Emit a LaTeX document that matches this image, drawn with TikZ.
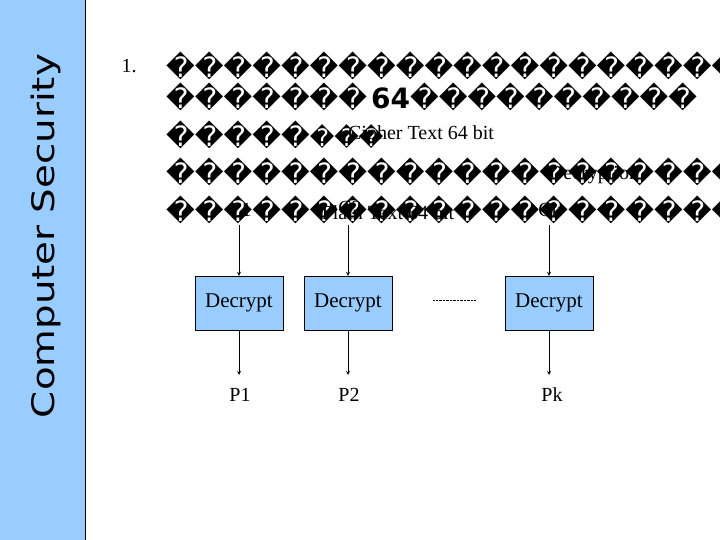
\documentclass[tikz,border=0pt]{standalone}
\usepackage{fontspec}
\setmainfont{Liberation Serif}
\setsansfont{DejaVu Sans}
\newfontfamily\dv{DejaVu Sans}
\definecolor{lb}{RGB}{153,204,255}
\begin{document}
\begin{tikzpicture}[x=1pt,y=-1pt,
  box/.style={draw,fill=lb,minimum width=88pt,minimum height=54pt,inner sep=0pt,font=\fontsize{21}{22}\selectfont},
  lbl/.style={font=\fontsize{20}{21}\selectfont,inner sep=0pt},
  gl/.style={font=\dv\fontsize{28}{28}\selectfont,inner sep=0pt,anchor=west},
  arr/.style={-stealth,thick}]
\useasboundingbox (0,0) rectangle (720,540);
\fill[lb] (0,0) rectangle (85,540);
\draw (85,0) -- (85,540);
\node[rotate=90,xscale=1.25,font=\sffamily\fontsize{31}{31}\selectfont,inner sep=0pt] (t) at (46,236) {Computer Security};
\node[lbl] (n1) at (129,66) {1.};
\begin{scope}
\clip (85,0) rectangle (720,540);
\node[gl] (r1) at (166,66) {��������������������};
\node[gl] (r2) at (166,97) {�������\hspace{4pt}\textbf{\sffamily 64}����������};
\node[gl] (r3) at (166,135) {�����\fontsize{24}{24}\selectfont���};
\node[gl] (r4) at (166,172) {��������������������};
\node[gl] (r5) at (166,210) {�����������������������};
\end{scope}
\node[lbl] (ct) at (421,135) {Cipher Text 64 bit};
\node[lbl] (de) at (594,175) {Decryption};
\node[lbl] (pt) at (388,213) {Plain Text 64 bit};
\node[lbl] (c1) at (240,210) {C1};
\node[lbl] (c2) at (350,208) {C2};
\node[lbl] (ck) at (550,210) {Ck};
\node[box] (d1) at (239,303) {Decrypt};
\node[box] (d2) at (348,303) {Decrypt};
\node[box] (d3) at (549,303) {Decrypt};
\node[lbl] (p1) at (240,395) {P1};
\node[lbl] (p2) at (349,395) {P2};
\node[lbl] (pk) at (552,395) {Pk};
\coordinate (a1) at (239,225); \coordinate (a2) at (348,225); \coordinate (a3) at (549,225);
\coordinate (b1) at (239,375); \coordinate (b2) at (348,375); \coordinate (b3) at (549,375);
\draw[arr] (a1) -- (d1.north); \draw[arr] (a2) -- (d2.north); \draw[arr] (a3) -- (d3.north);
\draw[arr] (d1.south) -- (b1); \draw[arr] (d2.south) -- (b2); \draw[arr] (d3.south) -- (b3);
\coordinate (l1) at (433,300); \coordinate (l2) at (476,300);
\draw[densely dotted] (l1) -- (l2);
\end{tikzpicture}
\end{document}
